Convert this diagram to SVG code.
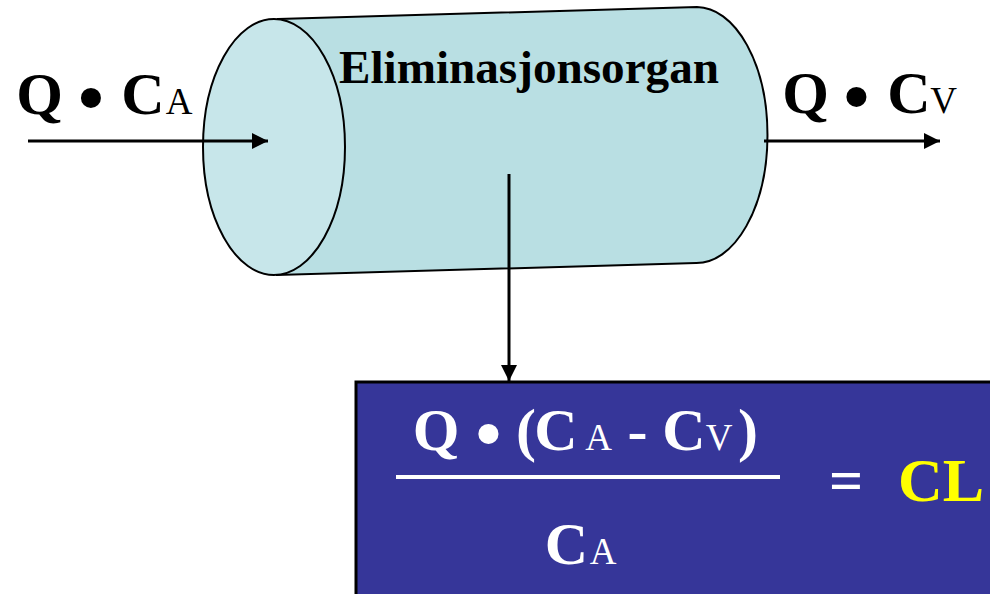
<svg xmlns="http://www.w3.org/2000/svg" width="990" height="594" viewBox="0 0 990 594">
<style>
text{font-family:"Liberation Serif","Times New Roman",serif;text-anchor:middle}
.b{font-weight:bold;font-size:60px}
.s{font-weight:normal;font-size:37px}
.d{font-weight:bold;font-size:74px}
.w{fill:#ffffff}
.k{fill:#000000}
.ln{stroke:#000;stroke-width:3;fill:none}
</style>
<defs>
<marker id="ah" viewBox="0 0 10 10" refX="10" refY="5" markerWidth="16" markerHeight="16" markerUnits="userSpaceOnUse" orient="auto">
<path d="M0,0 L10,5 L0,10 Z" fill="#000"/>
</marker>
</defs>
<rect width="990" height="594" fill="#ffffff"/>

<g id="cylinder">
<path d="M278,19 L697,7 A71,128 0 0 1 696,263 L277,275 Z" fill="#b9dfe3" stroke="#000" stroke-width="2"/>
<ellipse cx="274" cy="147" rx="71" ry="128" fill="#c7e6ea" stroke="#000" stroke-width="2"/>
<text x="529" y="83" style="font-weight:bold;font-size:47px" textLength="380" lengthAdjust="spacingAndGlyphs">Eliminasjonsorgan</text>
</g>

<g id="result-box">
<rect x="356" y="382" width="640" height="220" fill="#363699" stroke="#000" stroke-width="3"/>
<g class="w">
<text class="b" x="436" y="450">Q</text>
<text class="d" x="488.5" y="459">•</text>
<text class="b" x="526" y="450">(</text>
<text class="b" x="556" y="450">C</text>
<text class="s" x="598.5" y="450">A</text>
<text class="b" x="637.5" y="450">-</text>
<text class="b" x="684" y="450">C</text>
<text class="s" x="719" y="450">V</text>
<text class="b" x="748" y="450">)</text>
<rect x="396" y="475" width="384" height="4" fill="#ffffff"/>
<text class="b" x="566.5" y="564">C</text>
<text class="s" x="603" y="564">A</text>
<text class="b" x="846" y="500">=</text>
</g>
<text class="b" x="941" y="501" style="font-size:62px" fill="#ffff00">CL</text>
</g>

<g id="label-in" class="k">
<text class="b" x="39.5" y="114">Q</text>
<text class="d" x="91" y="123">•</text>
<text class="b" x="143" y="114">C</text>
<text class="s" x="179" y="114">A</text>
</g>

<g id="label-out" class="k">
<text class="b" x="805.5" y="113">Q</text>
<text class="d" x="856.5" y="122">•</text>
<text class="b" x="909" y="113">C</text>
<text class="s" x="943.5" y="113">V</text>
</g>

<g id="connectors">
<line class="ln" x1="28" y1="141" x2="268" y2="141" marker-end="url(#ah)"/>
<line class="ln" x1="764" y1="141" x2="940" y2="141" marker-end="url(#ah)"/>
<line class="ln" x1="509" y1="174" x2="509" y2="381" marker-end="url(#ah)"/>
</g>
</svg>
